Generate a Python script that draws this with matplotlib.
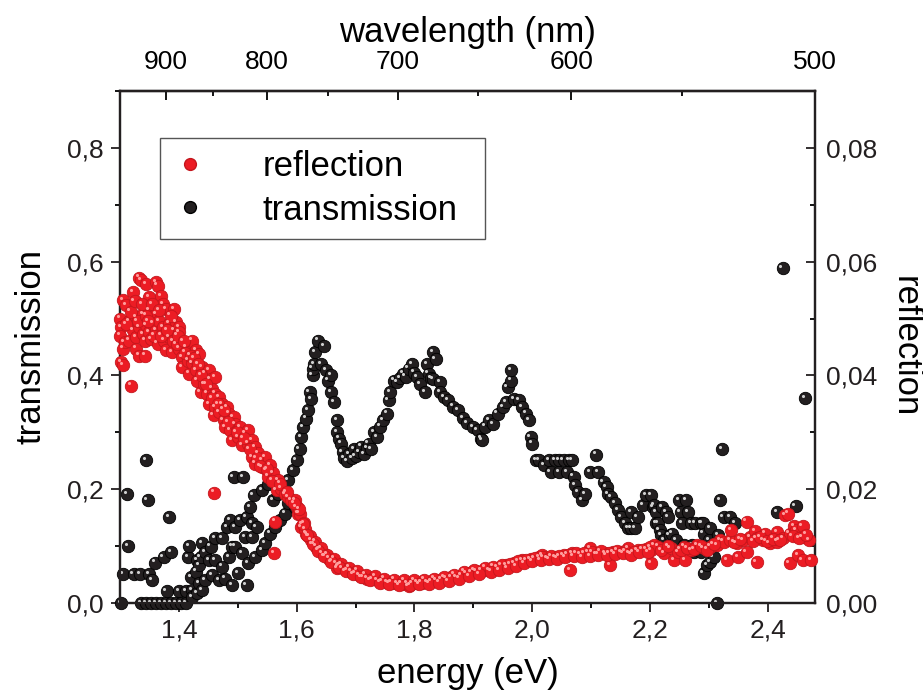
import matplotlib
matplotlib.use("Agg")
import matplotlib.pyplot as plt
import matplotlib.transforms as mtransforms
from matplotlib.lines import Line2D
from matplotlib.ticker import FixedLocator, FixedFormatter, MultipleLocator

plt.rcParams["font.family"] = ["Liberation Sans", "DejaVu Sans"]

# transmission (left axis): energy (eV), value
trans_e = [1.302, 1.305, 1.312, 1.314, 1.323, 1.334, 1.336, 1.345, 1.345, 1.347,
           1.350, 1.353, 1.354, 1.360, 1.361, 1.370, 1.374, 1.378, 1.379, 1.383,
           1.387, 1.387, 1.395, 1.400, 1.404, 1.412, 1.412, 1.415, 1.418, 1.421,
           1.423, 1.423, 1.429, 1.431, 1.431, 1.434, 1.434, 1.437, 1.440, 1.440,
           1.445, 1.445, 1.451, 1.454, 1.457, 1.462, 1.462, 1.468, 1.473, 1.473,
           1.479, 1.482, 1.485, 1.487, 1.490, 1.490, 1.493, 1.496, 1.496, 1.501,
           1.504, 1.507, 1.509, 1.513, 1.515, 1.515, 1.518, 1.521, 1.524, 1.524,
           1.527, 1.529, 1.532, 1.541, 1.541, 1.546, 1.552, 1.555, 1.560, 1.563,
           1.569, 1.571, 1.577, 1.580, 1.585, 1.585, 1.594, 1.597, 1.600, 1.605,
           1.608, 1.611, 1.616, 1.619, 1.622, 1.625, 1.627, 1.627, 1.630, 1.631,
           1.636, 1.641, 1.647, 1.650, 1.653, 1.658, 1.658, 1.664, 1.669, 1.669,
           1.672, 1.675, 1.678, 1.681, 1.686, 1.689, 1.694, 1.697, 1.700, 1.706,
           1.709, 1.714, 1.719, 1.722, 1.726, 1.731, 1.736, 1.742, 1.747, 1.753,
           1.756, 1.759, 1.765, 1.770, 1.776, 1.781, 1.785, 1.790, 1.796, 1.800,
           1.804, 1.810, 1.818, 1.821, 1.824, 1.828, 1.832, 1.836, 1.832, 1.843,
           1.843, 1.850, 1.857, 1.865, 1.874, 1.882, 1.890, 1.899, 1.907, 1.913,
           1.915, 1.920, 1.927, 1.934, 1.941, 1.950, 1.955, 1.958, 1.964, 1.964,
           1.969, 1.978, 1.983, 1.989, 1.994, 1.997, 2.000, 2.006, 2.011, 2.020,
           2.028, 2.031, 2.039, 2.045, 2.045, 2.053, 2.059, 2.062, 2.067, 2.070,
           2.073, 2.078, 2.084, 2.090, 2.098, 2.109, 2.112, 2.121, 2.126, 2.129,
           2.134, 2.140, 2.146, 2.151, 2.157, 2.163, 2.168, 2.168, 2.174, 2.179,
           2.188, 2.193, 2.202, 2.205, 2.207, 2.210, 2.210, 2.213, 2.216, 2.219,
           2.221, 2.224, 2.227, 2.230, 2.233, 2.238, 2.244, 2.249, 2.252, 2.255,
           2.258, 2.261, 2.264, 2.269, 2.272, 2.274, 2.277, 2.286, 2.286, 2.289,
           2.291, 2.291, 2.297, 2.300, 2.302, 2.302, 2.308, 2.314, 2.316, 2.319,
           2.322, 2.325, 2.336, 2.345, 2.415, 2.425, 2.447, 2.463]
trans_v = [0.000, 0.051, 0.191, 0.100, 0.051, 0.051, 0.000, 0.251, 0.000, 0.181,
           0.051, 0.000, 0.040, 0.071, 0.000, 0.000, 0.081, 0.000, 0.021, 0.151,
           0.000, 0.090, 0.000, 0.021, 0.000, 0.021, 0.000, 0.081, 0.100, 0.046,
           0.023, 0.011, 0.055, 0.017, 0.075, 0.067, 0.035, 0.081, 0.105, 0.023,
           0.090, 0.040, 0.075, 0.099, 0.049, 0.114, 0.075, 0.040, 0.114, 0.064,
           0.043, 0.134, 0.081, 0.146, 0.099, 0.032, 0.221, 0.134, 0.099, 0.052,
           0.146, 0.087, 0.221, 0.116, 0.151, 0.032, 0.070, 0.169, 0.116, 0.140,
           0.189, 0.081, 0.134, 0.198, 0.093, 0.105, 0.210, 0.122, 0.181, 0.134,
           0.192, 0.146, 0.198, 0.157, 0.216, 0.175, 0.233, 0.169, 0.251, 0.271,
           0.292, 0.309, 0.324, 0.339, 0.371, 0.359, 0.400, 0.412, 0.420, 0.441,
           0.461, 0.420, 0.451, 0.409, 0.391, 0.400, 0.371, 0.353, 0.321, 0.300,
           0.289, 0.280, 0.265, 0.255, 0.250, 0.262, 0.255, 0.270, 0.258, 0.265,
           0.275, 0.262, 0.272, 0.280, 0.270, 0.300, 0.292, 0.310, 0.322, 0.333,
           0.356, 0.371, 0.391, 0.388, 0.395, 0.403, 0.398, 0.412, 0.420, 0.405,
           0.397, 0.385, 0.371, 0.420, 0.403, 0.395, 0.441, 0.429, 0.394, 0.388,
           0.371, 0.362, 0.356, 0.345, 0.339, 0.325, 0.316, 0.309, 0.304, 0.289,
           0.286, 0.310, 0.321, 0.315, 0.333, 0.344, 0.353, 0.379, 0.391, 0.410,
           0.359, 0.356, 0.344, 0.333, 0.321, 0.292, 0.280, 0.251, 0.251, 0.242,
           0.251, 0.230, 0.251, 0.251, 0.230, 0.251, 0.230, 0.251, 0.251, 0.222,
           0.207, 0.195, 0.181, 0.192, 0.230, 0.261, 0.230, 0.213, 0.204, 0.192,
           0.186, 0.175, 0.163, 0.151, 0.140, 0.131, 0.131, 0.160, 0.131, 0.151,
           0.172, 0.189, 0.189, 0.169, 0.172, 0.160, 0.140, 0.140, 0.128, 0.119,
           0.169, 0.111, 0.160, 0.151, 0.119, 0.122, 0.111, 0.181, 0.160, 0.140,
           0.102, 0.181, 0.160, 0.140, 0.102, 0.090, 0.140, 0.140, 0.090, 0.140,
           0.122, 0.052, 0.067, 0.111, 0.131, 0.072, 0.081, 0.000, 0.119, 0.181,
           0.270, 0.151, 0.151, 0.140, 0.160, 0.589, 0.170, 0.360]

# reflection (right axis): energy (eV), value
refl_e = [1.300, 1.302, 1.300, 1.305, 1.305, 1.302, 1.305, 1.308, 1.311, 1.316,
          1.316, 1.319, 1.322, 1.322, 1.328, 1.328, 1.328, 1.333, 1.333, 1.333,
          1.336, 1.339, 1.339, 1.342, 1.342, 1.345, 1.345, 1.350, 1.350, 1.350,
          1.353, 1.356, 1.361, 1.361, 1.361, 1.364, 1.364, 1.367, 1.370, 1.373,
          1.373, 1.375, 1.378, 1.378, 1.384, 1.384, 1.389, 1.392, 1.392, 1.395,
          1.401, 1.401, 1.401, 1.406, 1.406, 1.412, 1.415, 1.417, 1.423, 1.423,
          1.429, 1.429, 1.431, 1.434, 1.437, 1.440, 1.443, 1.445, 1.448, 1.451,
          1.451, 1.454, 1.457, 1.459, 1.460, 1.462, 1.462, 1.462, 1.468, 1.468,
          1.473, 1.476, 1.479, 1.482, 1.485, 1.487, 1.490, 1.493, 1.496, 1.501,
          1.504, 1.507, 1.513, 1.518, 1.518, 1.524, 1.524, 1.529, 1.529, 1.535,
          1.541, 1.541, 1.546, 1.549, 1.552, 1.555, 1.560, 1.562, 1.563, 1.566,
          1.569, 1.574, 1.580, 1.585, 1.591, 1.597, 1.600, 1.602, 1.605, 1.608,
          1.612, 1.616, 1.620, 1.625, 1.629, 1.633, 1.638, 1.644, 1.649, 1.655,
          1.661, 1.667, 1.669, 1.673, 1.678, 1.685, 1.692, 1.699, 1.706, 1.713,
          1.720, 1.728, 1.737, 1.745, 1.753, 1.761, 1.770, 1.778, 1.787, 1.790,
          1.796, 1.804, 1.812, 1.821, 1.829, 1.837, 1.846, 1.854, 1.862, 1.871,
          1.880, 1.888, 1.897, 1.905, 1.914, 1.927, 1.941, 1.955, 1.969, 1.983,
          1.997, 2.011, 2.017, 2.025, 2.039, 2.053, 2.064, 2.067, 2.081, 2.095,
          2.098, 2.109, 2.123, 2.132, 2.137, 2.151, 2.163, 2.165, 2.179, 2.193,
          2.202, 2.202, 2.207, 2.213, 2.224, 2.235, 2.241, 2.247, 2.258, 2.260,
          2.269, 2.280, 2.291, 2.302, 2.314, 2.319, 2.325, 2.331, 2.336, 2.337,
          2.347, 2.350, 2.358, 2.364, 2.364, 2.370, 2.378, 2.381, 2.381, 2.392,
          2.395, 2.403, 2.415, 2.415, 2.426, 2.429, 2.434, 2.437, 2.437, 2.444,
          2.448, 2.451, 2.459, 2.459, 2.459, 2.470, 2.473,
          1.604, 1.614, 1.622, 1.631, 1.641, 1.652, 1.664, 1.676, 1.689, 1.703,
          1.717, 1.733, 1.749, 1.766, 1.783, 1.800, 1.816, 1.833, 1.850, 1.867,
          1.884, 1.901, 1.920, 1.934, 1.948, 1.962, 1.976, 1.990, 2.004, 2.018,
          2.032, 2.046, 2.060, 2.074, 2.088, 2.102, 2.116, 2.130, 2.144, 2.158,
          2.172, 2.186, 2.200, 2.219, 2.230, 2.252, 2.263, 2.275, 2.286, 2.297,
          2.308, 2.342, 2.353, 2.375, 2.387, 2.398, 2.409, 2.420, 2.442, 2.453,
          2.465,
          1.610, 1.618, 1.627, 1.636, 1.647, 1.658, 1.671, 1.683, 1.696, 1.710,
          1.724, 1.741, 1.757, 1.774, 1.792, 1.808, 1.825, 1.842, 1.858, 1.876,
          1.893, 1.910, 1.930, 1.944, 1.958, 1.972, 1.986, 2.000, 2.014, 2.028,
          2.042, 2.056, 2.070, 2.084, 2.098, 2.112, 2.126, 2.140, 2.154, 2.168,
          2.182, 2.196,
          1.310, 1.318, 1.325, 1.330, 1.338, 1.344, 1.348, 1.355, 1.358, 1.366,
          1.370, 1.380, 1.386, 1.390, 1.396, 1.398, 1.408, 1.410, 1.420, 1.426,
          1.432, 1.438, 1.446, 1.456, 1.466, 1.476, 1.484, 1.498, 1.510, 1.520,
          1.532, 1.538, 1.550, 1.558, 1.572, 1.583, 1.595]
refl_v = [0.0500, 0.0485, 0.0470, 0.0532, 0.0447, 0.0423, 0.0418, 0.0458, 0.0523, 0.0496,
          0.0461, 0.0382, 0.0546, 0.0479, 0.0502, 0.0467, 0.0447, 0.0572, 0.0485, 0.0435,
          0.0567, 0.0508, 0.0473, 0.0461, 0.0435, 0.0561, 0.0488, 0.0537, 0.0514, 0.0476,
          0.0464, 0.0491, 0.0564, 0.0508, 0.0479, 0.0558, 0.0456, 0.0496, 0.0540, 0.0526,
          0.0485, 0.0461, 0.0517, 0.0444, 0.0491, 0.0467, 0.0441, 0.0517, 0.0479, 0.0494,
          0.0485, 0.0476, 0.0447, 0.0432, 0.0415, 0.0450, 0.0426, 0.0403, 0.0461, 0.0421,
          0.0444, 0.0409, 0.0391, 0.0438, 0.0371, 0.0415, 0.0385, 0.0403, 0.0368, 0.0409,
          0.0350, 0.0394, 0.0377, 0.0330, 0.0194, 0.0397, 0.0368, 0.0344, 0.0362, 0.0336,
          0.0350, 0.0321, 0.0309, 0.0344, 0.0333, 0.0304, 0.0286, 0.0327, 0.0315, 0.0292,
          0.0309, 0.0277, 0.0298, 0.0304, 0.0280, 0.0286, 0.0257, 0.0274, 0.0245, 0.0263,
          0.0251, 0.0239, 0.0257, 0.0233, 0.0222, 0.0242, 0.0228, 0.0088, 0.0143, 0.0198,
          0.0216, 0.0201, 0.0192, 0.0186, 0.0181, 0.0181, 0.0169, 0.0157, 0.0157, 0.0134,
          0.0140, 0.0122, 0.0118, 0.0111, 0.0104, 0.0099, 0.0095, 0.0087, 0.0082, 0.0078,
          0.0073, 0.0070, 0.0061, 0.0066, 0.0061, 0.0058, 0.0055, 0.0052, 0.0049, 0.0046,
          0.0043, 0.0042, 0.0040, 0.0038, 0.0037, 0.0036, 0.0035, 0.0034, 0.0035, 0.0029,
          0.0035, 0.0036, 0.0036, 0.0037, 0.0038, 0.0040, 0.0041, 0.0043, 0.0045, 0.0046,
          0.0049, 0.0052, 0.0054, 0.0056, 0.0057, 0.0058, 0.0062, 0.0067, 0.0070, 0.0075,
          0.0077, 0.0081, 0.0084, 0.0079, 0.0081, 0.0084, 0.0058, 0.0087, 0.0085, 0.0090,
          0.0096, 0.0086, 0.0087, 0.0067, 0.0089, 0.0090, 0.0096, 0.0088, 0.0093, 0.0095,
          0.0093, 0.0070, 0.0102, 0.0099, 0.0087, 0.0096, 0.0075, 0.0090, 0.0099, 0.0075,
          0.0093, 0.0102, 0.0096, 0.0099, 0.0102, 0.0111, 0.0108, 0.0075, 0.0111, 0.0128,
          0.0105, 0.0081, 0.0111, 0.0090, 0.0143, 0.0116, 0.0127, 0.0114, 0.0072, 0.0111,
          0.0122, 0.0105, 0.0108, 0.0125, 0.0114, 0.0154, 0.0157, 0.0122, 0.0070, 0.0135,
          0.0128, 0.0084, 0.0116, 0.0135, 0.0075, 0.0111, 0.0075,
          0.0165, 0.0130, 0.0118, 0.0108, 0.0096, 0.0085, 0.0078, 0.0068, 0.0062, 0.0057,
          0.0050, 0.0047, 0.0043, 0.0041, 0.0040, 0.0040, 0.0041, 0.0043, 0.0046, 0.0050,
          0.0055, 0.0058, 0.0062, 0.0064, 0.0067, 0.0069, 0.0073, 0.0076, 0.0079, 0.0080,
          0.0083, 0.0082, 0.0085, 0.0088, 0.0087, 0.0089, 0.0091, 0.0088, 0.0092, 0.0091,
          0.0090, 0.0094, 0.0098, 0.0093, 0.0100, 0.0094, 0.0097, 0.0095, 0.0100, 0.0094,
          0.0103, 0.0107, 0.0112, 0.0109, 0.0116, 0.0109, 0.0113, 0.0110, 0.0118, 0.0114,
          0.0120,
          0.0138, 0.0120, 0.0103, 0.0092, 0.0082, 0.0072, 0.0064, 0.0056, 0.0051, 0.0045,
          0.0040, 0.0036, 0.0034, 0.0032, 0.0032, 0.0033, 0.0034, 0.0036, 0.0039, 0.0043,
          0.0047, 0.0051, 0.0055, 0.0058, 0.0061, 0.0065, 0.0070, 0.0073, 0.0076, 0.0077,
          0.0078, 0.0080, 0.0082, 0.0081, 0.0083, 0.0085, 0.0084, 0.0086, 0.0087, 0.0085,
          0.0089, 0.0090,
          0.0490, 0.0512, 0.0530, 0.0495, 0.0525, 0.0505, 0.0495, 0.0525, 0.0470, 0.0515,
          0.0470, 0.0480, 0.0505, 0.0460, 0.0455, 0.0470, 0.0460, 0.0440, 0.0435, 0.0430,
          0.0420, 0.0400, 0.0385, 0.0360, 0.0350, 0.0340, 0.0318, 0.0300, 0.0290, 0.0270,
          0.0255, 0.0240, 0.0235, 0.0215, 0.0210, 0.0195, 0.0175]

energy_ticks = [1.4, 1.6, 1.8, 2.0, 2.2, 2.4]
energy_labels = ["1,4", "1,6", "1,8", "2,0", "2,2", "2,4"]
trans_ticks = [0.0, 0.2, 0.4, 0.6, 0.8]
trans_labels = ["0,0", "0,2", "0,4", "0,6", "0,8"]
refl_ticks = [0.0, 0.02, 0.04, 0.06, 0.08]
refl_labels = ["0,00", "0,02", "0,04", "0,06", "0,08"]
wl_ticks = [900, 800, 700, 600, 500]
wl_minor = [850, 750, 650, 550]

RED, RED_EDGE, RED_HI = "#ec1c24", "#c4161d", "#ff9c9c"
BLK, BLK_EDGE, BLK_HI = "#231f20", "#000000", "#cfcfcf"
HC = 1239.84

fig = plt.figure(figsize=(9.23, 6.95), dpi=100)
ax = fig.add_axes([0.130, 0.1324, 0.753, 0.7367])
ax2 = ax.twinx()


def spheres(a, x, y, color, edge, hi):
    a.scatter(x, y, s=80, c=color, edgecolors=edge, linewidths=0.6, zorder=3, clip_on=False)
    shift = mtransforms.offset_copy(a.transData, fig=fig, x=-1.6, y=1.6, units="points")
    a.scatter(x, y, s=5, c=hi, linewidths=0, transform=shift, zorder=4, clip_on=False)


spheres(ax, trans_e, trans_v, BLK, BLK_EDGE, BLK_HI)
spheres(ax2, refl_e, refl_v, RED, RED_EDGE, RED_HI)

ax.set_xlim(1.3, 2.48)
ax.set_ylim(0, 0.9)
ax2.set_ylim(0, 0.09)

ax.xaxis.set_major_locator(FixedLocator(energy_ticks))
ax.xaxis.set_major_formatter(FixedFormatter(energy_labels))
ax.xaxis.set_minor_locator(MultipleLocator(0.1))
ax.yaxis.set_major_locator(FixedLocator(trans_ticks))
ax.yaxis.set_major_formatter(FixedFormatter(trans_labels))
ax.yaxis.set_minor_locator(MultipleLocator(0.1))
ax2.yaxis.set_major_locator(FixedLocator(refl_ticks))
ax2.yaxis.set_major_formatter(FixedFormatter(refl_labels))
ax2.yaxis.set_minor_locator(MultipleLocator(0.01))

for a in (ax, ax2):
    for s in a.spines.values():
        s.set_linewidth(1.6)
        s.set_color("#231f20")

ax.tick_params(which="major", direction="out", length=6.5, width=1.3, labelsize=19, pad=5, colors="#231f20")
ax.tick_params(which="minor", direction="out", length=3.5, width=1.3)
ax.tick_params(axis="both", top=False, right=False)
ax2.tick_params(which="major", direction="in", length=6.5, width=1.3, labelsize=19, pad=8, colors="#231f20")
ax2.tick_params(which="minor", direction="in", length=3.5, width=1.3)

top = ax.secondary_xaxis("top", functions=(lambda e: HC / e, lambda w: HC / w))
top.set_xticks(wl_ticks)
top.set_xticklabels([str(w) for w in wl_ticks])
top.xaxis.set_minor_locator(FixedLocator(wl_minor))
top.tick_params(which="major", direction="in", length=6.5, width=1.3, labelsize=19, pad=12)
top.tick_params(which="minor", direction="in", length=3.5, width=1.3)
top.spines["top"].set_linewidth(1.6)
top.set_xlabel("wavelength (nm)", fontsize=25, labelpad=6)

ax.set_xlabel("energy (eV)", fontsize=25, labelpad=10)
ax.set_ylabel("transmission", fontsize=25, labelpad=14)
ax2.set_ylabel("reflection", fontsize=25, rotation=270, labelpad=32)

h_red = Line2D([], [], ls="", marker="o", ms=8.5, mfc=RED, mec=RED_EDGE)
h_blk = Line2D([], [], ls="", marker="o", ms=8.5, mfc=BLK, mec=BLK_EDGE)
leg = ax2.legend([h_red, h_blk], ["reflection", "transmission"],
                 loc="upper left", mode="expand",
                 bbox_to_anchor=(0.1733, 0.672, 0.3521, 0.1295), bbox_transform=fig.transFigure,
                 fontsize=25, frameon=True, fancybox=False, framealpha=1, edgecolor="#555555",
                 borderpad=0.35, labelspacing=0.3, handlelength=1.05, handletextpad=1.55,
                 borderaxespad=0)
leg.get_frame().set_linewidth(1.0)
leg.set_zorder(10)

fig.savefig("out.png", dpi=100)
